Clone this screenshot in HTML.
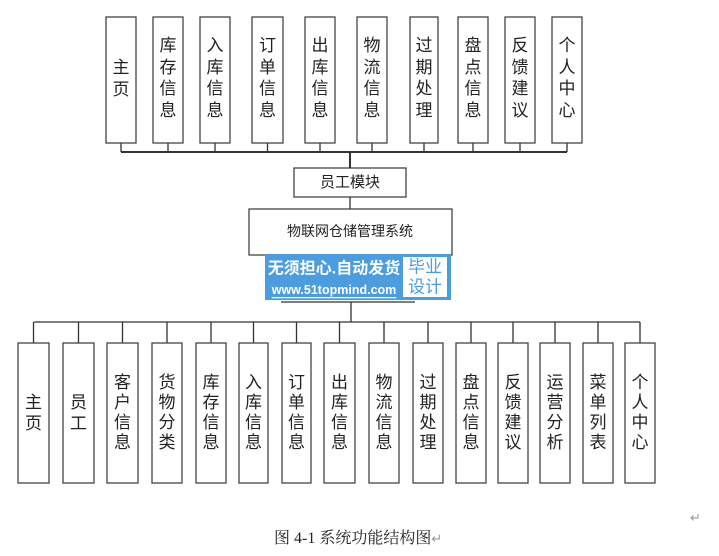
<!DOCTYPE html>
<html><head><meta charset="utf-8"><style>
html,body{margin:0;padding:0;background:#fff;width:719px;height:556px;overflow:hidden}
svg text{font-family:"Liberation Sans","Noto Sans CJK SC",sans-serif}
</style></head><body>
<svg width="719" height="556" viewBox="0 0 719 556" xmlns="http://www.w3.org/2000/svg">
<g fill="#fff" stroke="#444" stroke-width="1.3">
<rect x="106" y="17" width="30" height="126"/><rect x="153" y="17" width="30" height="126"/>
<rect x="200" y="17" width="30" height="126"/><rect x="252" y="17" width="31" height="126"/>
<rect x="305" y="17" width="30" height="126"/><rect x="357" y="17" width="30" height="126"/>
<rect x="410" y="17" width="28" height="126"/><rect x="458" y="17" width="30" height="126"/>
<rect x="505" y="17" width="30" height="126"/><rect x="552" y="17" width="30" height="126"/>
<rect x="294" y="168" width="112" height="29"/>
<rect x="249" y="209" width="203" height="46"/>
</g>
<g stroke="#333" stroke-width="1.3" fill="none">
<path d="M121 143V152M168 143V152M215 143V152M267.5 143V152M320 143V152M372 143V152M424 143V152M473 143V152M520 143V152M567 143V152"/>
<path d="M121 152H567" stroke-width="2"/>
<path d="M350 152V168" stroke-width="2"/>
<path d="M350 197V209"/>
<path d="M281 302H415"/>
<path d="M351 302V322M34 322H640"/>
<path d="M33.5 322V343M78.5 322V343M122.5 322V343M167 322V343M211 322V343M253.5 322V343M296.5 322V343M339.5 322V343M384 322V343M428 322V343M471 322V343M513 322V343M555 322V343M598 322V343M640 322V343"/>
</g>
<g fill="#fff" stroke="#444" stroke-width="1.3">
<rect x="18" y="343" width="31" height="140"/><rect x="63" y="343" width="31" height="140"/>
<rect x="107" y="343" width="31" height="140"/><rect x="152" y="343" width="30" height="140"/>
<rect x="196" y="343" width="30" height="140"/><rect x="239" y="343" width="29" height="140"/>
<rect x="282" y="343" width="29" height="140"/><rect x="324" y="343" width="31" height="140"/>
<rect x="369" y="343" width="30" height="140"/><rect x="413" y="343" width="30" height="140"/>
<rect x="456" y="343" width="30" height="140"/><rect x="498" y="343" width="30" height="140"/>
<rect x="540" y="343" width="30" height="140"/><rect x="583" y="343" width="30" height="140"/>
<rect x="625" y="343" width="30" height="140"/>
</g>
<g font-size="17" fill="#222" text-anchor="middle" dominant-baseline="central">
<text x="121"><tspan x="121" y="67">主</tspan><tspan x="121" y="89">页</tspan></text>
<text><tspan x="168" y="45">库</tspan><tspan x="168" y="67">存</tspan><tspan x="168" y="88">信</tspan><tspan x="168" y="110">息</tspan></text>
<text><tspan x="215" y="45">入</tspan><tspan x="215" y="67">库</tspan><tspan x="215" y="88">信</tspan><tspan x="215" y="110">息</tspan></text>
<text><tspan x="267.5" y="45">订</tspan><tspan x="267.5" y="67">单</tspan><tspan x="267.5" y="88">信</tspan><tspan x="267.5" y="110">息</tspan></text>
<text><tspan x="320" y="45">出</tspan><tspan x="320" y="67">库</tspan><tspan x="320" y="88">信</tspan><tspan x="320" y="110">息</tspan></text>
<text><tspan x="372" y="45">物</tspan><tspan x="372" y="67">流</tspan><tspan x="372" y="88">信</tspan><tspan x="372" y="110">息</tspan></text>
<text><tspan x="424" y="45">过</tspan><tspan x="424" y="67">期</tspan><tspan x="424" y="88">处</tspan><tspan x="424" y="110">理</tspan></text>
<text><tspan x="473" y="45">盘</tspan><tspan x="473" y="67">点</tspan><tspan x="473" y="88">信</tspan><tspan x="473" y="110">息</tspan></text>
<text><tspan x="520" y="45">反</tspan><tspan x="520" y="67">馈</tspan><tspan x="520" y="88">建</tspan><tspan x="520" y="110">议</tspan></text>
<text><tspan x="567" y="45">个</tspan><tspan x="567" y="67">人</tspan><tspan x="567" y="88">中</tspan><tspan x="567" y="110">心</tspan></text>

<text><tspan x="33.5" y="402">主</tspan><tspan x="33.5" y="423">页</tspan></text>
<text><tspan x="78.5" y="402">员</tspan><tspan x="78.5" y="423">工</tspan></text>
<text><tspan x="122.5" y="382">客</tspan><tspan x="122.5" y="402">户</tspan><tspan x="122.5" y="422">信</tspan><tspan x="122.5" y="442">息</tspan></text>
<text><tspan x="167" y="382">货</tspan><tspan x="167" y="402">物</tspan><tspan x="167" y="422">分</tspan><tspan x="167" y="442">类</tspan></text>
<text><tspan x="211" y="382">库</tspan><tspan x="211" y="402">存</tspan><tspan x="211" y="422">信</tspan><tspan x="211" y="442">息</tspan></text>
<text><tspan x="253.5" y="382">入</tspan><tspan x="253.5" y="402">库</tspan><tspan x="253.5" y="422">信</tspan><tspan x="253.5" y="442">息</tspan></text>
<text><tspan x="296.5" y="382">订</tspan><tspan x="296.5" y="402">单</tspan><tspan x="296.5" y="422">信</tspan><tspan x="296.5" y="442">息</tspan></text>
<text><tspan x="339.5" y="382">出</tspan><tspan x="339.5" y="402">库</tspan><tspan x="339.5" y="422">信</tspan><tspan x="339.5" y="442">息</tspan></text>
<text><tspan x="384" y="382">物</tspan><tspan x="384" y="402">流</tspan><tspan x="384" y="422">信</tspan><tspan x="384" y="442">息</tspan></text>
<text><tspan x="428" y="382">过</tspan><tspan x="428" y="402">期</tspan><tspan x="428" y="422">处</tspan><tspan x="428" y="442">理</tspan></text>
<text><tspan x="471" y="382">盘</tspan><tspan x="471" y="402">点</tspan><tspan x="471" y="422">信</tspan><tspan x="471" y="442">息</tspan></text>
<text><tspan x="513" y="382">反</tspan><tspan x="513" y="402">馈</tspan><tspan x="513" y="422">建</tspan><tspan x="513" y="442">议</tspan></text>
<text><tspan x="555" y="382">运</tspan><tspan x="555" y="402">营</tspan><tspan x="555" y="422">分</tspan><tspan x="555" y="442">析</tspan></text>
<text><tspan x="598" y="382">菜</tspan><tspan x="598" y="402">单</tspan><tspan x="598" y="422">列</tspan><tspan x="598" y="442">表</tspan></text>
<text><tspan x="640" y="382">个</tspan><tspan x="640" y="402">人</tspan><tspan x="640" y="422">中</tspan><tspan x="640" y="442">心</tspan></text>

<text x="350" y="182.5" font-size="15">员工模块</text>
<text x="350" y="231" font-size="14">物联网仓储管理系统</text>
</g>
<rect x="265" y="254" width="186" height="46" fill="#4c9de0"/>
<rect x="403" y="257" width="44" height="40" fill="#fff"/>
<g text-anchor="middle" dominant-baseline="central">
<text x="334" y="269" font-size="16" font-weight="bold" fill="#fff">无须担心.自动发货</text>
<text x="334" y="290" font-size="12.5" font-weight="bold" fill="#fff" text-decoration="underline">www.51topmind.com</text>
<text x="425" y="267" font-size="17" fill="#4c9de0">毕业</text>
<text x="425" y="287" font-size="17" fill="#4c9de0">设计</text>
</g>
<text x="274" y="543" font-size="16" fill="#222" style="font-family:'Liberation Serif','Noto Serif CJK SC',serif">图 4-1 系统功能结构图<tspan fill="#999" font-size="13">↵</tspan></text>
<text x="690" y="522" font-size="13" fill="#999">↵</text>
</svg>
</body></html>
